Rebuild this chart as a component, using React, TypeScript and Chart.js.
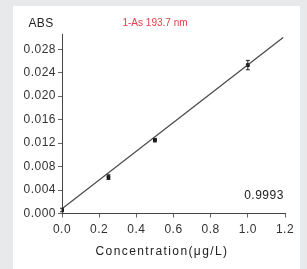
import React, { useEffect, useRef } from "react";
import { Chart, registerables } from "chart.js";

Chart.register(...registerables);

const concentrations = [0, 0.25, 0.5, 1.0];
const absorbance = [0.0006, 0.0062, 0.0125, 0.0253];
const errors = [0.0003, 0.0004, 0.0003, 0.0008];
const fitLine = [
  { x: 0, y: 0.0008 },
  { x: 1.19, y: 0.03 },
];
const yTicks = [0, 0.004, 0.008, 0.012, 0.016, 0.02, 0.024, 0.028];
const xTicks = [0, 0.2, 0.4, 0.6, 0.8, 1.0, 1.2];
const titleText = "1-As 193.7 nm";
const yLabel = "ABS";
const xLabel = "Concentration(μg/L)";
const rText = "0.9993";

const FONT = "'Liberation Sans', Arial, sans-serif";

export default function App() {
  const ref = useRef<HTMLCanvasElement | null>(null);

  useEffect(() => {
    if (!ref.current) return;

    const errorBars = {
      id: "errorBars",
      afterDatasetsDraw(chart: any) {
        const { ctx, scales } = chart;
        ctx.save();
        ctx.strokeStyle = "#222";
        ctx.lineWidth = 1;
        concentrations.forEach((c, i) => {
          const x = scales.x.getPixelForValue(c);
          const y1 = scales.y.getPixelForValue(absorbance[i] - errors[i]);
          const y2 = scales.y.getPixelForValue(absorbance[i] + errors[i]);
          ctx.beginPath();
          ctx.moveTo(x, y1);
          ctx.lineTo(x, y2);
          ctx.moveTo(x - 2, y1);
          ctx.lineTo(x + 2, y1);
          ctx.moveTo(x - 2, y2);
          ctx.lineTo(x + 2, y2);
          ctx.stroke();
        });
        ctx.restore();
      },
    };

    const texts = {
      id: "texts",
      beforeDraw(chart: any) {
        (chart.ctx as any).letterSpacing = "0.5px";
      },
      afterDraw(chart: any) {
        const ctx = chart.ctx as any;
        ctx.save();
        ctx.textBaseline = "middle";
        ctx.textAlign = "center";
        ctx.letterSpacing = "0.3px";
        ctx.fillStyle = "#222";
        ctx.font = `12px ${FONT}`;
        ctx.fillText(yLabel, 41, 24);
        ctx.letterSpacing = "0px";
        ctx.fillStyle = "#e8404a";
        ctx.font = `10px ${FONT}`;
        ctx.fillText(titleText, 155, 23);
        ctx.letterSpacing = "0.5px";
        ctx.fillStyle = "#222";
        ctx.font = `12px ${FONT}`;
        ctx.fillText(rText, 264, 196);
        ctx.letterSpacing = "1.4px";
        ctx.fillText(xLabel, 162, 252);
        ctx.restore();
        ctx.letterSpacing = "0px";
      },
    };

    const chart = new Chart(ref.current, {
      type: "scatter",
      data: {
        datasets: [
          {
            type: "line",
            data: fitLine,
            borderColor: "#4a4a4a",
            borderWidth: 1.3,
            pointRadius: 0,
            fill: false,
          } as any,
          {
            data: concentrations.map((c, i) => ({ x: c, y: absorbance[i] })),
            pointStyle: "rect",
            pointRadius: 2,
            backgroundColor: "#111",
            borderColor: "#111",
          },
        ],
      },
      options: {
        animation: false,
        responsive: false,
        maintainAspectRatio: false,
        layout: { padding: { left: 0, right: 22, top: 34, bottom: 0 } },
        plugins: {
          legend: { display: false },
          tooltip: { enabled: false },
          title: { display: false },
        },
        scales: {
          x: {
            type: "linear",
            min: 0,
            max: 1.2,
            afterBuildTicks: (scale: any) => {
              scale.ticks = xTicks.map((v) => ({ value: v }));
            },
            afterFit: (scale: any) => {
              scale.height = 55.5;
            },
            ticks: {
              color: "#333",
              font: { family: FONT, size: 12 },
              padding: 5,
              maxRotation: 0,
              callback: (v: any) => Number(v).toFixed(1),
            },
            grid: {
              drawOnChartArea: false,
              drawTicks: true,
              tickLength: 4,
              color: "#666",
            },
            border: { display: true, color: "#444", width: 1 },
          },
          y: {
            type: "linear",
            min: 0,
            max: 0.0306,
            afterBuildTicks: (scale: any) => {
              scale.ticks = yTicks.map((v) => ({ value: v }));
            },
            afterFit: (scale: any) => {
              scale.width = 62;
            },
            ticks: {
              color: "#333",
              font: { family: FONT, size: 12 },
              padding: 2,
              callback: (v: any) => Number(v).toFixed(3),
            },
            grid: {
              drawOnChartArea: false,
              drawTicks: true,
              tickLength: 4,
              color: "#666",
            },
            border: { display: true, color: "#444", width: 1 },
          },
        },
      },
      plugins: [errorBars, texts],
    } as any);

    return () => chart.destroy();
  }, []);

  return (
    <div
      style={{
        position: "fixed",
        left: 0,
        top: 0,
        width: 307,
        height: 269,
        background: "#e8e9eb",
        overflow: "hidden",
      }}
    >
      <div
        style={{
          position: "absolute",
          left: 13,
          top: 6,
          width: 287,
          height: 263,
          background: "#ffffff",
        }}
      />
      <canvas
        ref={ref}
        width={307}
        height={269}
        style={{ position: "absolute", left: 0, top: 0, width: 307, height: 269 }}
      />
    </div>
  );
}
